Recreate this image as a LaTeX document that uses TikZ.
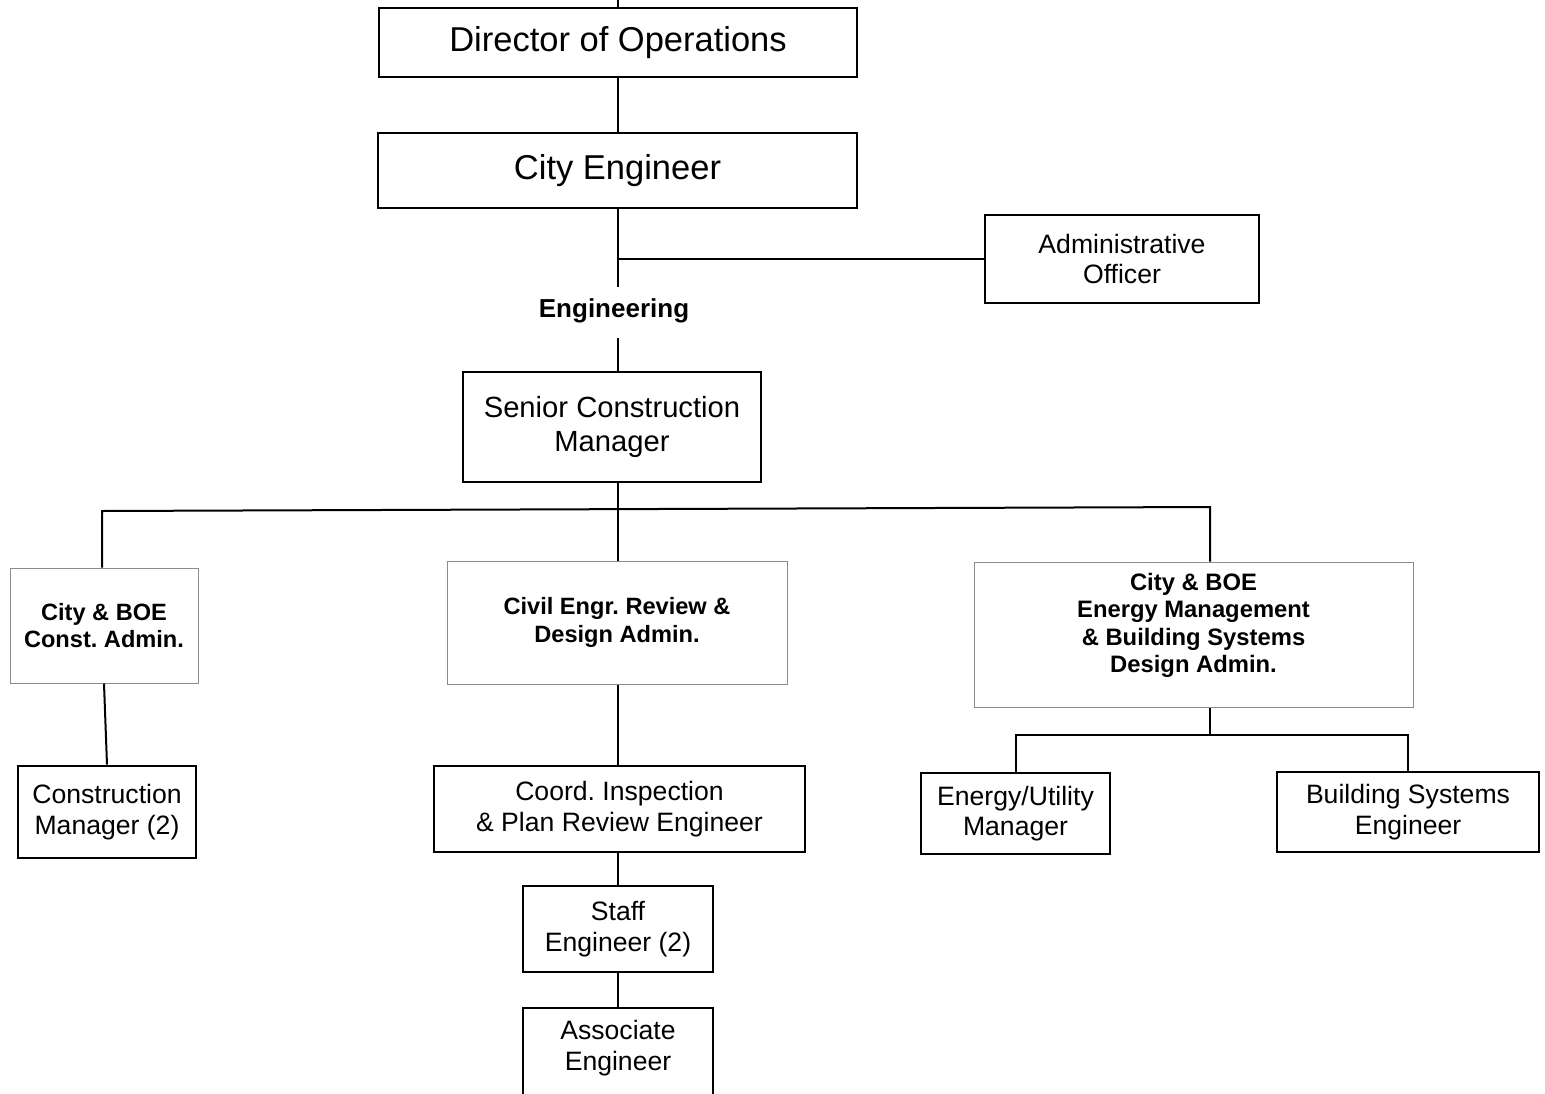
\documentclass[tikz,border=0pt]{standalone}
\usepackage{fontspec}
\setmainfont{Liberation Sans}
\begin{document}
\frenchspacing
\begin{tikzpicture}[x=1pt,y=-1pt,
  box/.style={draw=black, line width=2.6pt, align=center, inner sep=0pt,
    font=\fontsize{26.6}{30.5}\selectfont},
  bigbox/.style={box, font=\fontsize{34.5}{40}\selectfont},
  graybox/.style={draw=black!45, line width=1pt, align=center, inner sep=0pt,
    font=\bfseries\fontsize{23.6}{27.5}\selectfont},
  boldtext/.style={font=\bfseries\fontsize{26}{30}\selectfont},
  link/.style={line width=2pt}]
\useasboundingbox (0,0) rectangle (1545,1093);
\clip (0,0) rectangle (1545,1093);
\fill[white] (0,0) rectangle (1545,1093);

% upper management
\node[bigbox, minimum width=478pt, minimum height=69pt] (dir) at (618,42.5) {Director of Operations};
\node[bigbox, minimum width=479pt, minimum height=75pt] (ce) at (617.5,170.5) {City Engineer};
\node[box, minimum width=274pt, minimum height=88pt] (adm) at (1122,259) {Administrative\\Officer};
\node[boldtext] (engl) at (614,311) {Engineering};
\node[box, minimum width=298pt, minimum height=110pt,
  font=\fontsize{29.2}{34}\selectfont] (scm) at (612,427) {Senior Construction\\Manager};

% divisions
\node[graybox, minimum width=188pt, minimum height=115pt] (cadm) at (104,625.5) {City \& BOE\\Const. Admin.};
\node[graybox, minimum width=340pt, minimum height=123pt] (civ) at (617,622.5) {Civil Engr. Review \&\\ Design Admin.};
\node[graybox, minimum width=439pt, minimum height=145pt,
  label={[yshift=9pt, align=center, font=\bfseries\fontsize{23.8}{27.5}\selectfont]center:City \& BOE\\Energy Management\\\& Building Systems\\Design Admin.}]
  (enm) at (1193.5,634.5) {};

% staff positions
\node[box, minimum width=178pt, minimum height=92pt] (cm) at (107,812) {Construction\\Manager (2)};
\node[box, minimum width=371pt, minimum height=86pt] (coord) at (619.5,809) {Coord. Inspection\\\& Plan Review Engineer};
\node[box, minimum width=190pt, minimum height=86pt] (staff) at (618,929) {Staff\\Engineer (2)};
\node[box, minimum width=190pt, minimum height=100pt,
  label={[yshift=10pt, align=center, font=\fontsize{26.6}{30.5}\selectfont]center:Associate\\Engineer}]
  (assoc) at (618,1058) {};
\node[box, minimum width=189pt, minimum height=81pt] (eu) at (1015.5,813.5) {Energy/Utility\\Manager};
\node[box, minimum width=262pt, minimum height=80pt] (bse) at (1408,812) {Building Systems\\Engineer};

% connector points
\coordinate (top) at (618,0);
\coordinate (e1) at (618,287);
\coordinate (j1) at (618,259);
\coordinate (e2) at (618,338);
\coordinate (bl) at (102,511);
\coordinate (br) at (1210,507);
\coordinate (j2) at (1210,735);

% connectors
\draw[link] (top) -- (dir.north);
\draw[link] (dir.south) -- (dir.south |- ce.north);
\draw[link] (ce.south -| j1) -- (e1);
\draw[link] (j1) -- (adm.west);
\draw[link] (e2) -- (e2 |- scm.north);
\draw[link] (e2 |- scm.south) -- (e2 |- civ.north);
\draw[link] (bl |- cadm.north) -- (bl) -- (br) -- (br |- enm.north);
\draw[link] (cadm.south) -- (cm.north);
\draw[link] (e2 |- civ.south) -- (e2 |- coord.north);
\draw[link] (e2 |- coord.south) -- (e2 |- staff.north);
\draw[link] (staff.south) -- (assoc.north);
\draw[link] (br |- enm.south) -- (j2);
\draw[link] (eu.north) -- (eu.north |- j2) -- (bse.north |- j2) -- (bse.north);
\end{tikzpicture}
\end{document}
